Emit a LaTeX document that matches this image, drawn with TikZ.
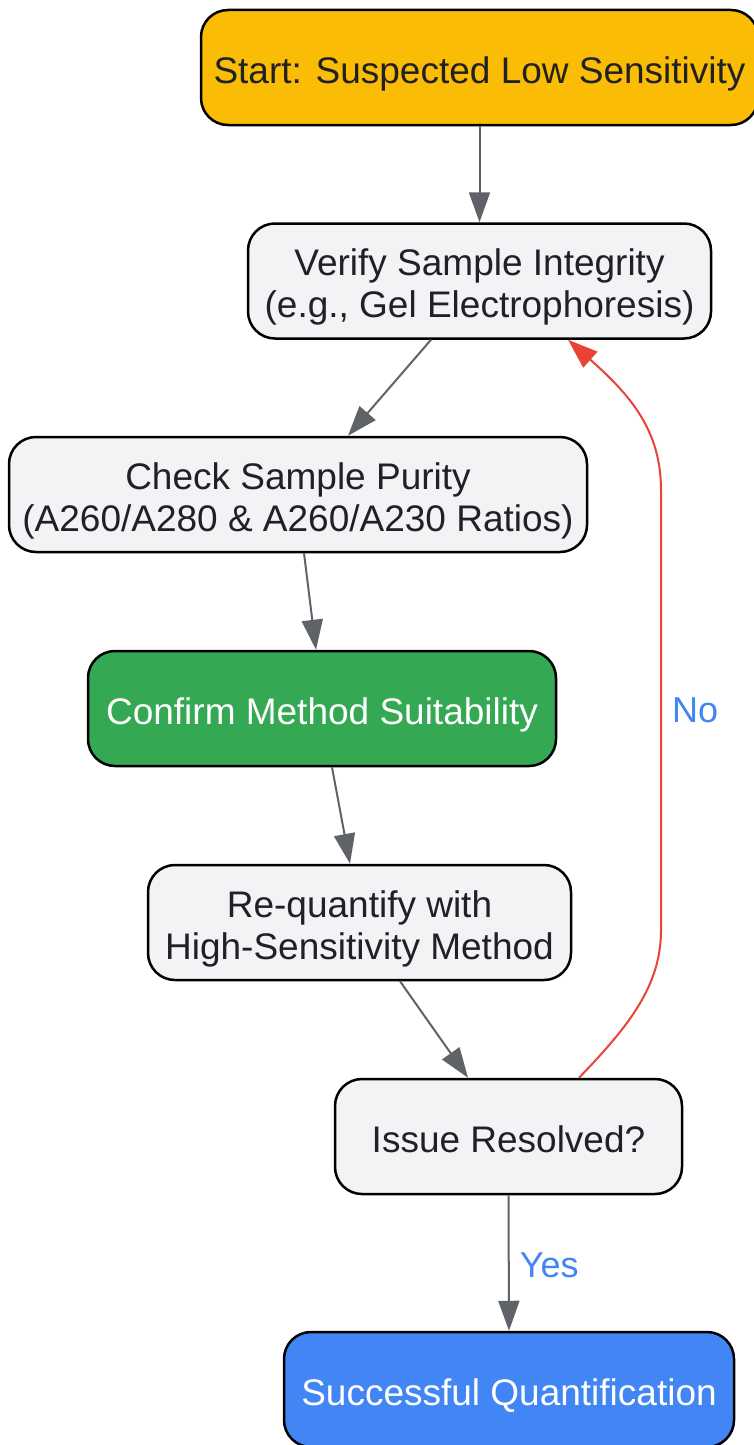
\documentclass[tikz,border=0pt]{standalone}
\usepackage{fontspec}
\setmainfont{Liberation Sans}
\usetikzlibrary{arrows.meta}
\definecolor{cyellow}{HTML}{FBBC05}
\definecolor{cgrey}{HTML}{F1F3F4}
\definecolor{cgreen}{HTML}{34A853}
\definecolor{cblue}{HTML}{4285F4}
\definecolor{cedge}{HTML}{5F6368}
\definecolor{cred}{HTML}{EA4335}
\definecolor{ctext}{HTML}{202124}
\newcommand\tstrut{\rule{0pt}{39pt}}
\newcommand\bstrut{\rule[-8pt]{0pt}{8pt}}
\tikzset{
  box/.style={draw=black, line width=2.5pt, rounded corners=27pt, minimum height=115pt,
    inner sep=0pt, align=center, font=\fontsize{37}{42}\selectfont, text=ctext, fill=cgrey},
  edge/.style={draw=cedge, line width=2pt, -{Triangle[length=30pt,width=21pt]}},
  noedge/.style={draw=cred, line width=2pt, -{Triangle[length=30pt,width=21pt]}},
  lbl/.style={text=cblue, font=\fontsize{36}{40}\selectfont, inner sep=0pt}
}
\begin{document}
\begin{tikzpicture}[x=1pt,y=-1pt]
\useasboundingbox (0,0) rectangle (753,1445);
\node[box, fill=cyellow, minimum width=557pt] (start) at (479.5,67.5) {\tstrut Start: Suspected Low Sensitivity\bstrut};
\node[box, minimum width=463pt] (verify) at (479.5,281) {\tstrut Verify Sample Integrity\\(e.g., Gel Electrophoresis)\bstrut};
\node[box, minimum width=578pt] (check) at (298,494.5) {\tstrut Check Sample Purity\\(A260/A280 \& A260/A230 Ratios)\bstrut};
\node[box, fill=cgreen, text=white, minimum width=468pt] (confirm) at (322,708.5) {\tstrut Confirm Method Suitability\bstrut};
\node[box, minimum width=423pt] (requant) at (359.5,922.5) {\tstrut Re-quantify with\\High-Sensitivity Method\bstrut};
\node[box, minimum width=347pt] (issue) at (508.5,1136.5) {\tstrut Issue Resolved?\bstrut};
\node[box, fill=cblue, text=white, minimum width=450pt] (success) at (509,1389.5) {\tstrut Successful Quantification\bstrut};

\draw[edge] (start.south) -- (verify.north);
\draw[edge] ([xshift=-48.5pt]verify.south) -- ([xshift=50pt]check.north);
\draw[edge] ([xshift=6pt]check.south) -- ([xshift=-6pt]confirm.north);
\draw[edge] ([xshift=10pt]confirm.south) -- ([xshift=-9.5pt]requant.north);
\draw[edge] ([xshift=40.5pt]requant.south) -- ([xshift=-40.5pt]issue.north);
\draw[edge] (issue.south) -- node[lbl, right=10pt, pos=0.52] (yes) {Yes} (success.north);
\coordinate (nolow) at (661,930);
\coordinate (nohigh) at (661,490);
\draw[noedge] ([xshift=70.5pt]issue.north) .. controls (630,1025) and (661,985) .. (nolow)
  -- node[lbl, right=10pt, pos=0.5] (no) {No} (nohigh)
  .. controls (661,430) and (630,395) .. ([xshift=88.5pt]verify.south);
\end{tikzpicture}
\end{document}
